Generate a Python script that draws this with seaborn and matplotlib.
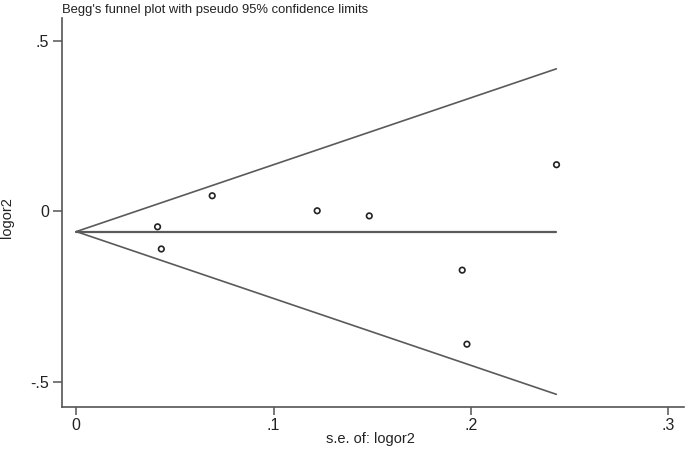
import matplotlib
matplotlib.use("Agg")
import matplotlib.pyplot as plt
import seaborn as sns
import pandas as pd

# Study data (standard error of log OR, log OR)
se_values = [0.0412, 0.0431, 0.0689, 0.1221, 0.1485, 0.1956, 0.1980, 0.2434]
logor_values = [-0.046, -0.111, 0.045, 0.001, -0.014, -0.173, -0.390, 0.136]

# Pseudo 95% confidence limits and pooled estimate
funnel_se = [0.0, 0.2433]
funnel_upper = [-0.060, 0.417]
funnel_lower = [-0.060, -0.537]
pooled = [-0.060, -0.060]

x_ticks = [0, 0.1, 0.2, 0.3]
x_tick_labels = ["0", ".1", ".2", ".3"]
y_ticks = [-0.5, 0, 0.5]
y_tick_labels = ["-.5", "0", ".5"]

sns.set_style("white")
plt.rcParams["font.family"] = ["Liberation Sans", "DejaVu Sans"]

W, H = 685, 449
fig = plt.figure(figsize=(6.85, 4.49), dpi=100)
ax = fig.add_axes([0.0909, 0.0929, 0.9076, 0.867])

df_pts = pd.DataFrame({"se": se_values, "logor": logor_values})
line_color = "#5a5a5a"
sns.lineplot(x=funnel_se, y=funnel_upper, ax=ax, color=line_color, lw=1.2)
sns.lineplot(x=funnel_se, y=funnel_lower, ax=ax, color=line_color, lw=1.2)
sns.lineplot(x=funnel_se, y=pooled, ax=ax, color=line_color, lw=1.6)
sns.scatterplot(data=df_pts, x="se", y="logor", ax=ax, marker="o",
                facecolor="none", edgecolor="#222222", linewidth=1.2, s=16, zorder=3)

ax.set_xlim(-0.0071, 0.308)
ax.set_ylim(-0.575, 0.566)
ax.set_xticks(x_ticks)
ax.set_xticklabels(x_tick_labels)
ax.set_yticks(y_ticks)
ax.set_yticklabels(y_tick_labels)

for side in ["top", "right"]:
    ax.spines[side].set_visible(False)
for side in ["left", "bottom"]:
    ax.spines[side].set_color("#555555")
    ax.spines[side].set_linewidth(1.2)

ax.tick_params(axis="y", direction="out", length=6.5, width=1.1, color="#555555",
               labelsize=11.5, labelcolor="#222222", pad=3, left=True)
ax.tick_params(axis="x", direction="out", length=6, width=1.1, color="#555555",
               labelsize=11.5, labelcolor="#222222", pad=2, bottom=True)

ax.set_xlabel("")
ax.set_ylabel("")
fig.text(370 / W, 1 - 439 / H, "s.e. of: logor2", fontsize=10.5, color="#222222",
         ha="center", va="center")
fig.text(7 / W, 1 - 218 / H, "logor2", fontsize=10.5, color="#222222",
         ha="center", va="center", rotation=90)
fig.text(62 / W, 1 - 10 / H, "Begg's funnel plot with pseudo 95% confidence limits",
         fontsize=9.4, color="#222222", ha="left", va="center")

fig.savefig("out.png", dpi=100)
